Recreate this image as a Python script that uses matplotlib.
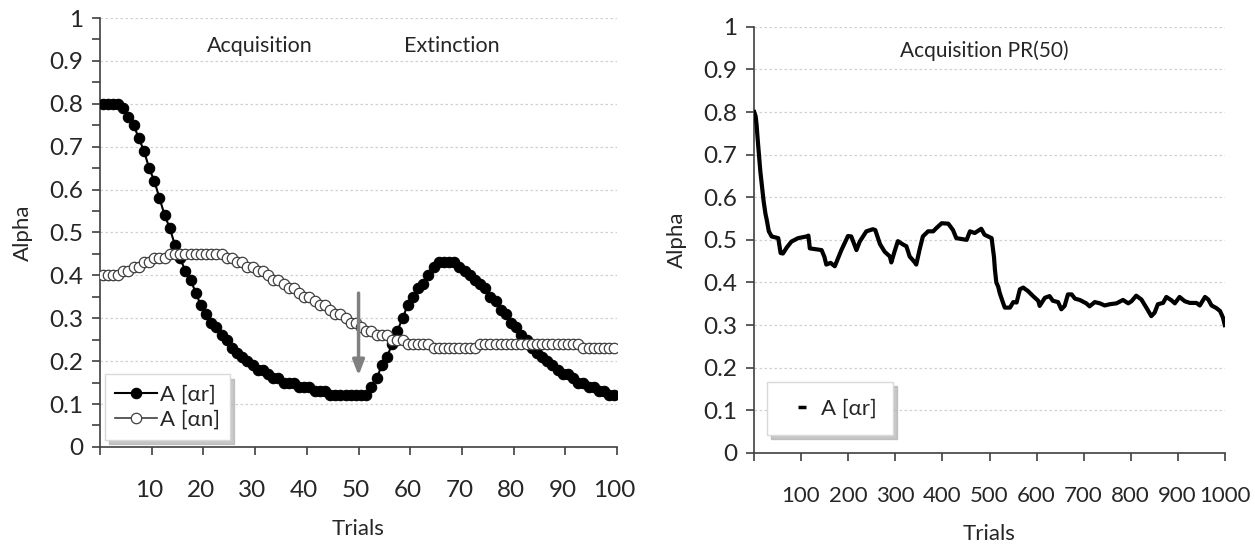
import numpy as np
import matplotlib
matplotlib.use("Agg")
import matplotlib.pyplot as plt
from matplotlib.lines import Line2D

plt.rcParams['font.family'] = ['Lato', 'Open Sans', 'DejaVu Sans']

# ---- left panel: acquisition / extinction, 100 trials ----
trials = np.arange(1, 101)
alpha_r = [0.80, 0.80, 0.80, 0.80, 0.79, 0.77, 0.75, 0.72, 0.69, 0.65,
           0.62, 0.58, 0.54, 0.51, 0.47, 0.44, 0.41, 0.39, 0.36, 0.33,
           0.31, 0.29, 0.28, 0.26, 0.25, 0.23, 0.22, 0.21, 0.20, 0.19,
           0.18, 0.18, 0.17, 0.16, 0.16, 0.15, 0.15, 0.15, 0.14, 0.14,
           0.14, 0.13, 0.13, 0.13, 0.12, 0.12, 0.12, 0.12, 0.12, 0.12,
           0.12, 0.12, 0.14, 0.16, 0.19, 0.21, 0.24, 0.27, 0.30, 0.33,
           0.35, 0.37, 0.38, 0.40, 0.42, 0.43, 0.43, 0.43, 0.43, 0.42,
           0.41, 0.40, 0.39, 0.38, 0.37, 0.35, 0.34, 0.32, 0.31, 0.29,
           0.28, 0.26, 0.25, 0.23, 0.22, 0.21, 0.20, 0.19, 0.18, 0.17,
           0.17, 0.16, 0.15, 0.15, 0.14, 0.14, 0.13, 0.13, 0.12, 0.12]
alpha_n = [0.40, 0.40, 0.40, 0.40, 0.41, 0.41, 0.42, 0.42, 0.43, 0.43,
           0.44, 0.44, 0.44, 0.45, 0.45, 0.45, 0.45, 0.45, 0.45, 0.45,
           0.45, 0.45, 0.45, 0.45, 0.44, 0.44, 0.43, 0.43, 0.42, 0.42,
           0.41, 0.41, 0.40, 0.39, 0.39, 0.38, 0.37, 0.37, 0.36, 0.35,
           0.35, 0.34, 0.33, 0.33, 0.32, 0.31, 0.31, 0.30, 0.29, 0.29,
           0.28, 0.27, 0.27, 0.26, 0.26, 0.26, 0.25, 0.25, 0.25, 0.24,
           0.24, 0.24, 0.24, 0.24, 0.23, 0.23, 0.23, 0.23, 0.23, 0.23,
           0.23, 0.23, 0.23, 0.24, 0.24, 0.24, 0.24, 0.24, 0.24, 0.24,
           0.24, 0.24, 0.24, 0.24, 0.24, 0.24, 0.24, 0.24, 0.24, 0.24,
           0.24, 0.24, 0.24, 0.23, 0.23, 0.23, 0.23, 0.23, 0.23, 0.23]
left_xlabels = ['10', '20', '30', '40', '50', '60', '70', '80', '90', '100']

# ---- right panel: acquisition PR(50), 1000 trials ----
pr_trials = [1, 4, 6, 8, 11, 14, 18, 21, 25, 27, 32, 38, 52, 54, 57, 62, 70, 80,
             94, 112, 116, 119, 144, 150, 154, 163, 172, 186, 200, 207, 218,
             225, 239, 253, 258, 268, 278, 289, 292, 299, 306, 317, 324, 331,
             342, 345, 352, 359, 370, 381, 388, 399, 413, 423, 430, 452, 459,
             469, 483, 490, 505, 508, 510, 512, 515, 519, 522, 529, 533, 544,
             551, 558, 565, 572, 582, 593, 604, 607, 618, 628, 635, 646, 653,
             660, 667, 675, 682, 692, 706, 713, 724, 735, 745, 756, 770, 784,
             795, 802, 812, 823, 834, 844, 851, 858, 869, 876, 887, 894, 904,
             915, 926, 940, 947, 958, 965, 972, 982, 990, 996, 1000]
pr_alpha = [0.80, 0.79, 0.77, 0.74, 0.70, 0.66, 0.62, 0.59, 0.56, 0.55, 0.52,
            0.508, 0.504, 0.49, 0.469, 0.468, 0.482, 0.496, 0.504, 0.508, 0.51,
            0.48, 0.476, 0.46, 0.442, 0.446, 0.438, 0.476, 0.509, 0.508, 0.476,
            0.496, 0.52, 0.525, 0.523, 0.49, 0.472, 0.461, 0.447, 0.473, 0.497,
            0.489, 0.485, 0.461, 0.447, 0.442, 0.477, 0.508, 0.52, 0.52, 0.528,
            0.539, 0.538, 0.523, 0.504, 0.50, 0.52, 0.516, 0.526, 0.512, 0.504,
            0.477, 0.46, 0.43, 0.40, 0.39, 0.376, 0.353, 0.341, 0.341, 0.354,
            0.353, 0.384, 0.388, 0.38, 0.368, 0.357, 0.345, 0.364, 0.368, 0.357,
            0.354, 0.337, 0.345, 0.372, 0.372, 0.362, 0.359, 0.351, 0.344, 0.354,
            0.351, 0.346, 0.349, 0.351, 0.359, 0.351, 0.356, 0.369, 0.36, 0.34,
            0.321, 0.329, 0.349, 0.352, 0.366, 0.358, 0.351, 0.366, 0.356, 0.352,
            0.352, 0.346, 0.366, 0.36, 0.346, 0.34, 0.333, 0.318, 0.30]
right_xlabels = ['100', '200', '300', '400', '500', '600', '700', '800', '900', '1000']

yticks = np.round(np.arange(0, 1.01, 0.1), 1)
ylabels = ['0', '0.1', '0.2', '0.3', '0.4', '0.5', '0.6', '0.7', '0.8', '0.9', '1']

axis_col = '#404040'
text_col = '#262626'
grid_col = '#d0d0d0'
tick_fs = 17.5
label_fs = 16

fig = plt.figure(figsize=(12.55, 5.47), dpi=100)
ax1 = fig.add_axes([0.0797, 0.183, 0.412, 0.784])
ax2 = fig.add_axes([0.6008, 0.172, 0.3753, 0.779])


def style_axis(ax, n, step, labels, xfs):
    ax.set_xlim(0, n)
    ax.set_ylim(0, 1)
    for s in ['top', 'right']:
        ax.spines[s].set_visible(False)
    for s in ['left', 'bottom']:
        ax.spines[s].set_color(axis_col)
        ax.spines[s].set_linewidth(1.2)
    ax.set_yticks(yticks)
    ax.set_yticklabels(ylabels, fontsize=tick_fs, color=text_col)
    for y in yticks[1:]:
        ax.axhline(y, color=grid_col, lw=0.9, ls=(0, (2, 2)), zorder=0)
    # category axis: tick marks on boundaries, labels on the category
    ax.set_xticks(np.arange(0, n + 1, step))
    ax.set_xticklabels([''] * len(np.arange(0, n + 1, step)))
    ax.set_xticks(np.arange(step, n + 1, step) - 0.5, minor=True)
    ax.set_xticklabels(labels, minor=True, fontsize=xfs, color=text_col)
    ax.tick_params(axis='x', which='major', direction='out', length=6,
                   color=axis_col, width=1.2)
    ax.tick_params(axis='x', which='minor', length=0, pad=24)
    ax.tick_params(axis='y', which='major', direction='out', length=6,
                   color=axis_col, width=1.2, pad=6)
    ax.set_xlabel('Trials', fontsize=label_fs, color=text_col, labelpad=13)
    ax.set_ylabel('Alpha', fontsize=label_fs, color=text_col, labelpad=12)


# left panel
style_axis(ax1, 100, 10, left_xlabels, tick_fs)
ax1.set_yticks(np.arange(0.05, 1.0, 0.1), minor=True)
ax1.tick_params(axis='y', which='minor', direction='out', length=6,
                color=axis_col, width=1.2)
x_left = trials - 0.5
ax1.plot(x_left, alpha_r, color='black', lw=1.5, marker='o', ms=7.5,
         mfc='black', mec='black', mew=0.8, zorder=3, label='A [αr]')
ax1.plot(x_left, alpha_n, color='#404040', lw=1.2, marker='o', ms=7.5,
         mfc='white', mec='#404040', mew=0.9, zorder=4, label='A [αn]')
ax1.annotate('', xy=(50, 0.16), xytext=(50, 0.365),
             arrowprops=dict(arrowstyle='-|>,head_width=0.35,head_length=0.9',
                             color='#808080', lw=2.5), zorder=5)
ax1.text(31, 0.935, 'Acquisition', fontsize=15.5, color=text_col,
         ha='center', va='center')
ax1.text(68, 0.935, 'Extinction', fontsize=15.5, color=text_col,
         ha='center', va='center')
leg1 = ax1.legend(loc='lower left', bbox_to_anchor=(0.01, 0.016),
                  borderaxespad=0, fontsize=16, handlelength=1.9,
                  handletextpad=0.1, labelspacing=0.25, borderpad=0.45,
                  frameon=True, fancybox=False, framealpha=1,
                  edgecolor='#d9d9d9',
                  shadow={'color': '#b0b0b0', 'alpha': 0.7, 'ox': 3, 'oy': -3})
for t in leg1.get_texts():
    t.set_color(text_col)

# right panel
style_axis(ax2, 1000, 100, right_xlabels, 16)
x_right = np.array(pr_trials) - 0.5
ax2.plot(x_right, pr_alpha, color='black', lw=3.0, solid_joinstyle='round',
         zorder=3)
ax2.text(490, 0.945, 'Acquisition PR(50)', fontsize=15, color=text_col,
         ha='center', va='center')
h = Line2D([], [], color='black', ls='none', marker='_', ms=6, mew=2.5)
leg2 = ax2.legend([h], ['A [αr]'], loc='lower left',
                  bbox_to_anchor=(0.028, 0.042), borderaxespad=0,
                  fontsize=16, handlelength=1.6, handletextpad=0.05,
                  borderpad=0.75, frameon=True, fancybox=False, framealpha=1,
                  edgecolor='#d9d9d9',
                  shadow={'color': '#b0b0b0', 'alpha': 0.7, 'ox': 3, 'oy': -3})
for t in leg2.get_texts():
    t.set_color(text_col)

fig.savefig('out.png', dpi=100)
